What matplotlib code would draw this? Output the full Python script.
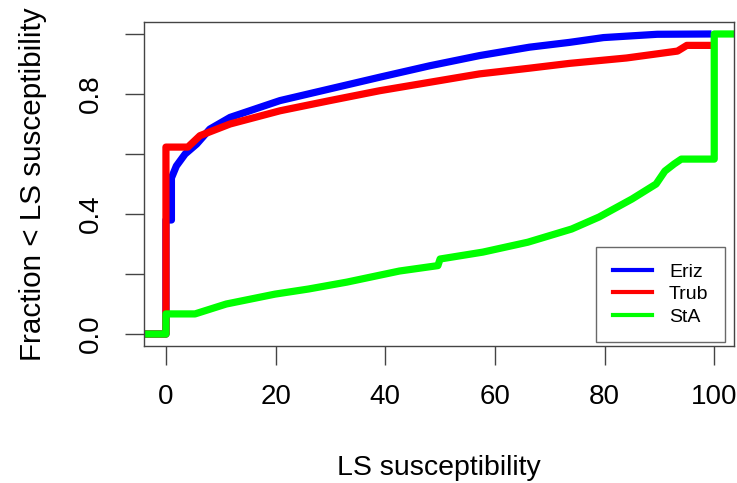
import matplotlib
matplotlib.use('Agg')
import matplotlib.pyplot as plt
from matplotlib.lines import Line2D

plt.rcParams['font.family'] = ['Liberation Sans', 'DejaVu Sans']

# values (ECDF curves)
eriz_x = [-4, 0, 0, 1, 1, 1.9, 3.5, 5.6, 8, 11.7, 20.8, 29.9, 39, 48.1, 57.2, 66.3, 73.6, 79.8, 89.6, 99.5]
eriz_y = [0, 0, 0.38, 0.38, 0.52, 0.56, 0.60, 0.633, 0.683, 0.722, 0.778, 0.817, 0.856, 0.894, 0.928, 0.956, 0.972, 0.988, 0.999, 1.0]

trub_x = [-4, 0, 0, 4, 6.2, 11.7, 20.8, 29.9, 39, 48.1, 57.2, 66.3, 73.6, 84, 93.3, 95, 99.5]
trub_y = [0, 0, 0.623, 0.623, 0.661, 0.70, 0.744, 0.778, 0.811, 0.839, 0.867, 0.886, 0.902, 0.92, 0.943, 0.962, 0.962]

sta_x = [-4, 0, 0, 5.3, 11, 19.9, 26, 33, 42.6, 49.6, 50, 57.8, 66, 74, 79, 85, 89.4, 91, 92.7, 94, 100, 100, 104]
sta_y = [0, 0, 0.067, 0.067, 0.10, 0.133, 0.15, 0.173, 0.21, 0.228, 0.25, 0.273, 0.306, 0.35, 0.39, 0.45, 0.5, 0.543, 0.567, 0.583, 0.583, 1.0, 1.0]

names = ['Eriz', 'Trub', 'StA']
colors = ['#0000ff', '#ff0000', '#00ff00']

fig = plt.figure(figsize=(7.37, 4.83), dpi=100)
ax = fig.add_axes([0.1954, 0.2836, 0.8005, 0.6709])

ax.plot(eriz_x, eriz_y, color=colors[0], lw=5.2, solid_capstyle='butt')
ax.plot(trub_x, trub_y, color=colors[1], lw=5.2, solid_capstyle='butt')
ax.plot(sta_x, sta_y, color=colors[2], lw=5.2, solid_capstyle='butt')

ax.set_xlim(-4, 103.6)
ax.set_ylim(-0.04, 1.04)
ax.set_xticks([0, 20, 40, 60, 80, 100])
ax.set_yticks([0, 0.2, 0.4, 0.6, 0.8, 1.0])
ax.set_yticklabels(['0.0', '', '0.4', '', '0.8', ''], rotation=90, va='center')
for s in ax.spines.values():
    s.set_color('#444444')
    s.set_linewidth(1)
ax.tick_params(axis='both', direction='out', length=14, width=1, color='#444444',
               labelsize=20)
ax.tick_params(axis='x', pad=13)
ax.tick_params(axis='y', pad=15)

ax.set_xlabel('LS susceptibility', fontsize=20.5, labelpad=33)
ax.set_ylabel('Fraction < LS susceptibility', fontsize=21.3, labelpad=22)

handles = [Line2D([0], [0], color=c, lw=3) for c in colors]
leg = ax.legend(handles, names, loc='lower right', bbox_to_anchor=(0.985, 0.012),
                fontsize=14, frameon=True, fancybox=False, handlelength=2.0,
                handletextpad=0.9, labelspacing=0.25, borderpad=0.85,
                borderaxespad=0)
leg.get_frame().set_edgecolor('#444444')
leg.get_frame().set_linewidth(1)

fig.savefig('out.png', dpi=100)
